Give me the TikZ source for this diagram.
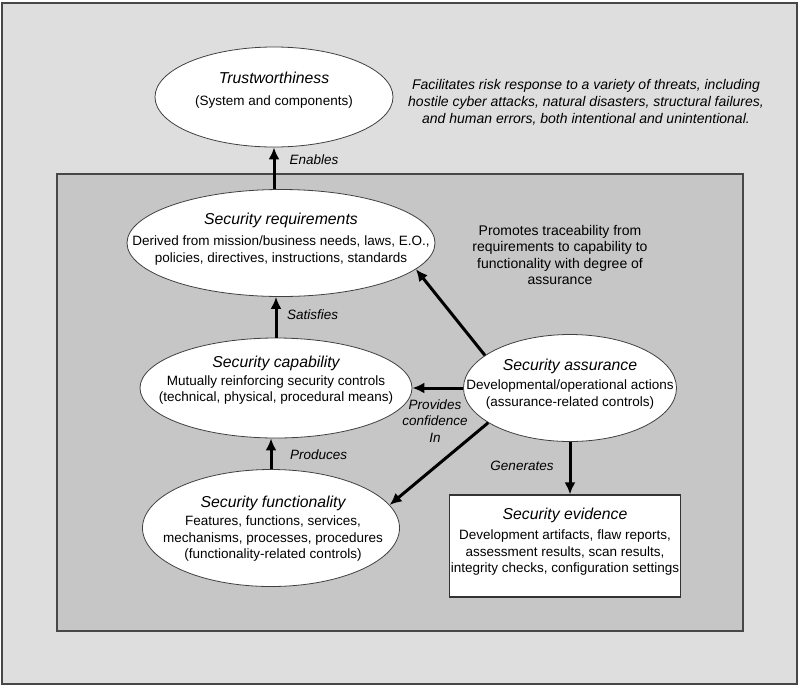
\documentclass[tikz,border=0pt]{standalone}
\usepackage{fontspec}
\setmainfont{Liberation Sans}
\usetikzlibrary{shapes.geometric,arrows.meta}

\definecolor{outerfill}{gray}{0.87}
\definecolor{innerfill}{gray}{0.775}
\definecolor{framegray}{gray}{0.28}
\newcommand\ttlfont{\fontsize{15.8}{18}\selectfont\itshape}

\begin{document}
\begin{tikzpicture}[x=1pt, y=-1pt,
    font=\fontsize{13.5}{16.5}\selectfont, >={Latex[length=12pt,width=11pt]},
    oval/.style ={draw=black!75, fill=white, ellipse, inner sep=0pt, line width=0.8pt},
    evbox/.style={draw=black!80, fill=white, line width=1.2pt, inner sep=0pt, minimum width=231pt, minimum height=102pt},
    txt/.style  ={align=center, inner sep=0pt},
    rel/.style  ={->, line width=3pt},
    lbl/.style  ={font=\fontsize{13.5}{16.5}\selectfont\itshape, inner sep=0pt, align=center}
]
\useasboundingbox (0,0) rectangle (800,689);

% --- Frames ---
\draw[framegray, line width=1.5pt, fill=outerfill] (2,3) rectangle (797,684);
\draw[framegray, line width=2pt, fill=innerfill] (57,174) rectangle (743,631);

% --- Trustworthiness ---
\node[oval, minimum width=238pt, minimum height=100pt] (trust) at (274,97) {};
\node[txt] (trust-t) at (274,90) {{\ttlfont Trustworthiness}\\[5.5pt](System and components)};
\node[txt, font=\fontsize{14}{17}\selectfont\itshape] (facil) at (586,102)
  {Facilitates risk response to a variety of threats, including\\
   hostile cyber attacks, natural disasters, structural failures,\\
   and human errors, both intentional and unintentional.};

% --- Requirements / capability / functionality ---
\node[oval, minimum width=308pt, minimum height=107pt] (req) at (281,243) {};
\node[txt] (req-t) at (281,239) {{\ttlfont Security requirements}\\[4.5pt]
  Derived from mission/business needs, laws, E.O.,\\policies, directives, instructions, standards};

\node[oval, minimum width=272pt, minimum height=100pt] (cap) at (276,388) {};
\node[txt] (cap-t) at (276,380) {{\ttlfont Security capability}\\[1.5pt]
  Mutually reinforcing security controls\\(technical, physical, procedural means)};

\node[oval, minimum width=257pt, minimum height=117pt] (func) at (271,528) {};
\node[txt] (func-t) at (273,529) {{\ttlfont Security functionality}\\[1.5pt]
  Features, functions, services,\\mechanisms, processes, procedures\\(functionality-related controls)};

% --- Assurance and evidence ---
\node[oval, minimum width=213pt, minimum height=107pt] (assur) at (570,388) {};
\node[txt] (assur-t) at (570,384) {{\ttlfont Security assurance}\\[2.5pt]
  Developmental/operational actions\\(assurance-related controls)};

\node[evbox] (evid) at (565,546) {};
\node[txt] (evid-t) at (565,542) {{\ttlfont Security evidence}\\[3.5pt]
  Development artifacts, flaw reports,\\assessment results, scan results,\\integrity checks, configuration settings};

\node[txt, font=\fontsize{14}{16.5}\selectfont] (promo) at (560,255) {Promotes traceability from\\requirements to capability to\\functionality with degree of\\assurance};

% --- Connectors ---
\draw[rel] (trust.south |- req.north) -- (trust.south)
   node[lbl, anchor=west] (enab) at (288,160) {Enables};
\draw[rel] (cap.north) -- (cap.north |- req.south);
\node[lbl, anchor=west] (satis) at (287,315) {Satisfies};
\draw[rel] (func.north) -- (func.north |- cap.south);
\node[lbl, anchor=west] (prod) at (290,455) {Produces};
\draw[rel] (assur.west) -- (cap.east);
\node[lbl] (prov) at (435,421) {Provides\\confidence\\In};
\draw[rel] (assur.159) -- (req.-11);
\draw[rel] (assur.203) -- (func.11);
\draw[rel] (assur.south) -- (assur.south |- evid.north);
\node[lbl] (gen) at (522,466) {Generates};

\end{tikzpicture}
\end{document}
